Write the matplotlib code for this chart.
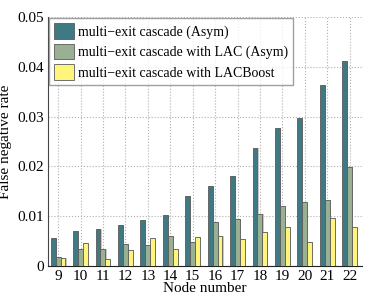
import matplotlib
matplotlib.use('Agg')
import matplotlib.pyplot as plt
import numpy as np

nodes = [9, 10, 11, 12, 13, 14, 15, 16, 17, 18, 19, 20, 21, 22]
asym = [0.0057, 0.0070, 0.0074, 0.0083, 0.0092, 0.0102, 0.0141, 0.0160,
        0.0181, 0.0236, 0.0277, 0.0297, 0.0364, 0.0412]
lac_asym = [0.0019, 0.0035, 0.0035, 0.0045, 0.0043, 0.0061, 0.0049, 0.0089,
            0.0094, 0.0104, 0.0121, 0.0129, 0.0133, 0.0199]
lacboost = [0.0017, 0.0047, 0.0015, 0.0033, 0.0057, 0.0035, 0.0059, 0.0061,
            0.0055, 0.0069, 0.0079, 0.0049, 0.0096, 0.0079]
labels = ['multi\u2212exit cascade (Asym)',
          'multi\u2212exit cascade with LAC (Asym)',
          'multi\u2212exit cascade with LACBoost']
colors = ['#3f7984', '#99b192', '#fff47c']

plt.rcParams['font.family'] = ['Liberation Serif', 'DejaVu Serif']

fig = plt.figure(figsize=(3.74, 2.98), dpi=100)
ax = fig.add_axes([48/374, 32/298, 314/374, 249/298])

x = np.array(nodes, dtype=float)
w = 0.22
series = [asym, lac_asym, lacboost]
for i, (vals, c, lab) in enumerate(zip(series, colors, labels)):
    pos = x + (i - 1) * w
    # light shadow on the right of each bar
    ax.bar(pos + 0.05, vals, width=w, color='#c8c8c8', edgecolor='none', zorder=2)
    ax.bar(pos, vals, width=w, color=c, edgecolor='#5a5a5a', linewidth=0.6,
           label=lab, zorder=3)

ax.set_xlim(8.55, 22.55)
ax.set_ylim(0, 0.05)
ax.set_xticks(nodes)
ax.set_yticks([0, 0.01, 0.02, 0.03, 0.04, 0.05])
ax.set_yticklabels(['0', '0.01', '0.02', '0.03', '0.04', '0.05'])
ax.tick_params(length=0, labelsize=11, pad=3)
ax.grid(True, linestyle=':', color='#b0b0b0', linewidth=0.8, zorder=0)
ax.set_axisbelow(True)
for s in ['top', 'right']:
    ax.spines[s].set_visible(False)
ax.spines['left'].set_color('#444444')
ax.spines['bottom'].set_color('#222222')

ax.set_xlabel('Node number', fontsize=11, labelpad=-1)
ax.set_ylabel('False negative rate', fontsize=11, labelpad=4)

leg = ax.legend(loc='upper left', fontsize=10, frameon=True, fancybox=False,
                edgecolor='#888888', borderaxespad=0.1, handlelength=1.45,
                handleheight=1.35, handletextpad=0.25, labelspacing=0.35,
                borderpad=0.35)
leg.get_frame().set_linewidth(1.0)

fig.savefig('out.png', dpi=100, facecolor='white')
plt.close(fig)
